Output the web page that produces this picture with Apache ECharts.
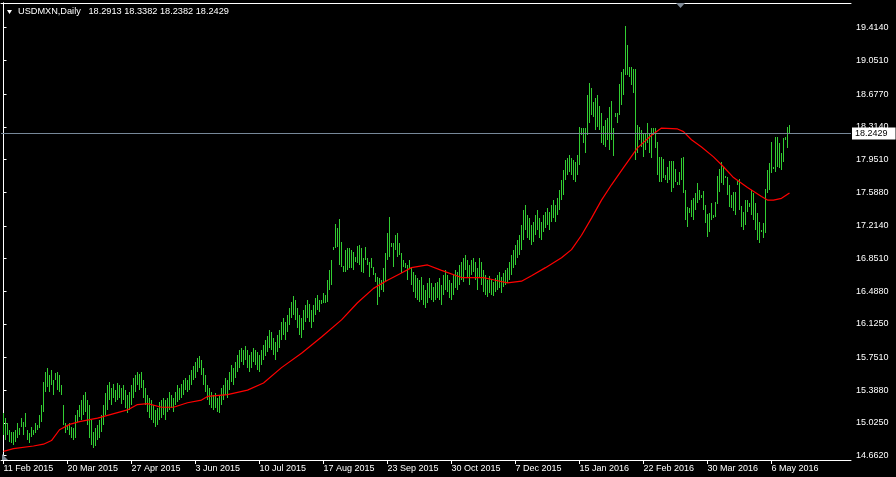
<!DOCTYPE html>
<html><head><meta charset="utf-8">
<script src="https://cdn.jsdelivr.net/npm/echarts@6/dist/echarts.min.js"></script>
<style>html,body{margin:0;padding:0;background:#000;}#c{width:896px;height:477px;}</style>
</head><body><div id="c"></div>
<script>
const symbolName = 'USDMXN,Daily';
const lastOHLC = [18.2913, 18.3382, 18.2382, 18.2429];
const dateLabels = ['11 Feb 2015','20 Mar 2015','27 Apr 2015','3 Jun 2015','10 Jul 2015','17 Aug 2015','23 Sep 2015','30 Oct 2015','7 Dec 2015','15 Jan 2016','22 Feb 2016','30 Mar 2016','6 May 2016'];
const dateLabelBars = [0,32,64,96,128,160,192,224,256,288,320,352,384];
const priceTicks = [14.6620,15.0250,15.3880,15.7510,16.1250,16.4880,16.8510,17.2140,17.5880,17.9510,18.3140,18.6770,19.0510,19.4140];
const highs = [
15.14,15.08,15.03,14.95,14.93,14.93,14.95,15.03,14.97,15.08,
15.04,15.14,14.95,14.91,14.98,14.95,15.03,15.00,15.11,15.23,
15.48,15.59,15.64,15.56,15.61,15.50,15.58,15.59,15.56,15.45,
15.23,15.03,15.00,15.03,14.98,14.97,15.11,15.17,15.23,15.28,
15.34,15.37,15.28,15.23,15.06,14.93,14.97,15.00,15.06,15.11,
15.23,15.36,15.45,15.48,15.41,15.46,15.39,15.47,15.45,15.41,
15.45,15.39,15.34,15.37,15.45,15.53,15.56,15.59,15.57,15.59,
15.50,15.41,15.34,15.30,15.28,15.23,15.17,15.19,15.26,15.28,
15.30,15.28,15.30,15.37,15.34,15.30,15.37,15.45,15.41,15.46,
15.50,15.53,15.50,15.56,15.61,15.66,15.70,15.75,15.77,15.73,
15.64,15.56,15.45,15.41,15.37,15.34,15.36,15.30,15.34,15.41,
15.45,15.53,15.50,15.59,15.67,15.64,15.70,15.78,15.84,15.86,
15.84,15.88,15.84,15.78,15.81,15.86,15.84,15.81,15.78,15.84,
15.89,15.95,15.99,16.06,16.04,15.97,15.92,16.00,16.06,16.15,
16.19,16.15,16.22,16.30,16.37,16.43,16.39,16.30,16.22,16.19,
16.28,16.34,16.39,16.35,16.28,16.34,16.41,16.45,16.39,16.39,
16.47,16.45,16.61,16.72,16.84,16.98,17.23,17.19,17.29,17.03,
16.77,16.95,16.97,16.97,16.95,16.92,16.87,16.99,17.00,16.97,
16.86,16.98,16.86,16.81,16.86,16.76,16.69,16.65,16.64,16.61,
16.75,16.91,17.13,17.31,17.02,17.02,17.11,17.13,17.02,16.91,
16.84,16.80,16.78,16.84,16.75,16.70,16.67,16.64,16.61,16.65,
16.56,16.50,16.58,16.64,16.58,16.54,16.58,16.59,16.64,16.56,
16.67,16.72,16.67,16.61,16.58,16.67,16.72,16.70,16.78,16.81,
16.86,16.89,16.84,16.78,16.84,16.86,16.81,16.75,16.86,16.81,
16.72,16.67,16.61,16.66,16.61,16.59,16.64,16.67,16.70,16.65,
16.69,16.72,16.75,16.81,16.89,16.95,17.00,17.06,17.11,17.22,
17.39,17.45,17.34,17.30,17.22,17.26,17.34,17.39,17.30,17.26,
17.34,17.37,17.41,17.37,17.45,17.50,17.45,17.52,17.61,17.72,
17.83,17.95,17.97,18.00,17.97,17.95,17.92,18.00,18.31,18.30,
18.30,18.30,18.67,18.80,18.75,18.59,18.63,18.67,18.55,18.47,
18.32,18.39,18.41,18.53,18.60,18.30,18.47,18.47,18.79,18.92,
18.95,19.43,19.22,18.98,18.98,18.95,18.95,18.33,18.31,18.28,
18.25,18.25,18.36,18.25,18.30,18.30,18.30,18.15,17.98,17.98,
17.96,17.78,17.87,17.93,17.93,17.93,17.84,17.70,17.81,17.97,
17.98,17.61,17.42,17.41,17.50,17.52,17.58,17.69,17.61,17.56,
17.60,17.45,17.35,17.36,17.47,17.33,17.48,17.77,17.84,17.92,
17.87,17.77,17.76,17.67,17.56,17.59,17.59,17.71,17.73,17.43,
17.37,17.50,17.50,17.47,17.61,17.58,17.47,17.36,17.26,17.17,
17.25,17.62,17.83,17.91,18.15,17.87,18.20,18.20,18.13,18.02,
18.19,18.20,18.31,18.3382];
const lows = [
14.89,14.84,14.89,14.81,14.80,14.78,14.81,14.86,14.89,14.98,
14.89,14.98,14.84,14.80,14.87,14.89,14.91,14.95,14.97,15.04,
15.15,15.37,15.42,15.37,15.45,15.34,15.50,15.39,15.37,15.34,
15.00,14.91,14.95,14.89,14.86,14.84,14.86,15.04,15.09,15.06,
15.11,15.15,15.00,14.86,14.78,14.75,14.77,14.84,14.86,14.93,
15.00,15.11,15.17,15.28,15.23,15.30,15.26,15.28,15.30,15.24,
15.28,15.19,15.14,15.17,15.23,15.30,15.37,15.45,15.39,15.41,
15.30,15.23,15.15,15.08,15.06,15.03,14.98,15.00,15.06,15.08,
15.11,15.06,15.15,15.17,15.19,15.15,15.23,15.26,15.28,15.30,
15.34,15.39,15.37,15.39,15.45,15.50,15.53,15.59,15.64,15.56,
15.45,15.37,15.28,15.23,15.19,15.17,15.19,15.15,15.14,15.23,
15.28,15.34,15.30,15.39,15.48,15.45,15.53,15.59,15.64,15.70,
15.67,15.73,15.64,15.59,15.64,15.70,15.67,15.61,15.59,15.67,
15.73,15.77,15.81,15.86,15.84,15.78,15.73,15.81,15.86,15.95,
16.00,15.95,16.04,16.11,16.19,16.22,16.17,16.08,16.00,15.97,
16.06,16.15,16.19,16.15,16.08,16.15,16.22,16.28,16.26,16.35,
16.36,16.36,16.37,16.50,16.56,16.95,16.97,16.98,16.78,16.76,
16.70,16.70,16.72,16.75,16.75,16.72,16.81,16.80,16.78,16.70,
16.69,16.84,16.78,16.65,16.75,16.67,16.59,16.34,16.42,16.50,
16.48,16.59,16.84,16.87,16.98,16.76,16.95,16.87,16.89,16.69,
16.76,16.75,16.61,16.75,16.56,16.48,16.41,16.39,16.37,16.39,
16.34,16.30,16.36,16.41,16.39,16.37,16.39,16.41,16.39,16.34,
16.45,16.50,16.48,16.41,16.39,16.45,16.52,16.50,16.56,16.61,
16.59,16.72,16.64,16.56,16.67,16.70,16.61,16.50,16.64,16.56,
16.48,16.45,16.42,16.47,16.45,16.43,16.48,16.50,16.52,16.47,
16.54,16.56,16.58,16.61,16.67,16.75,16.78,16.86,16.89,16.95,
17.06,17.17,17.08,17.06,17.00,17.03,17.11,17.17,17.08,17.06,
17.15,17.19,17.22,17.17,17.26,17.30,17.26,17.34,17.39,17.50,
17.56,17.72,17.78,17.81,17.78,17.72,17.70,17.78,17.89,18.22,
18.13,18.02,18.22,18.36,18.45,18.42,18.28,18.31,18.28,18.13,
18.11,18.09,18.17,18.06,18.17,17.99,18.42,18.36,18.45,18.56,
18.67,18.89,18.89,18.87,18.78,18.69,17.95,18.02,18.17,18.09,
17.98,18.06,18.13,18.02,17.97,18.22,18.08,17.78,17.70,17.70,
17.75,17.72,17.69,17.72,17.59,17.63,17.70,17.67,17.67,17.72,
17.58,17.28,17.20,17.36,17.31,17.28,17.39,17.47,17.50,17.52,
17.39,17.25,17.09,17.15,17.28,17.30,17.31,17.46,17.59,17.69,
17.67,17.75,17.56,17.42,17.41,17.38,17.33,17.67,17.39,17.20,
17.17,17.22,17.37,17.42,17.33,17.28,17.17,17.06,17.02,17.15,
17.08,17.13,17.58,17.61,17.80,17.85,17.81,17.87,17.86,17.83,
17.92,18.17,18.08,18.2382];
const maBars = [0,5,15,20,24,28,33,38,47,52,62,67,72,79,85,92,99,102,112,122,130,139,149,159,169,177,185,192,199,204,212,219,229,240,246,252,259,264,271,279,284,289,294,299,304,310,317,324,329,337,340,344,349,355,360,365,372,379,382,385,389,393];
const maValues = [14.71,14.74,14.77,14.79,14.83,14.95,15.01,15.04,15.08,15.11,15.17,15.23,15.24,15.20,15.20,15.25,15.28,15.32,15.34,15.39,15.47,15.64,15.80,15.98,16.17,16.36,16.52,16.61,16.69,16.75,16.78,16.72,16.64,16.64,16.61,16.58,16.60,16.66,16.75,16.86,16.95,17.11,17.30,17.50,17.67,17.86,18.08,18.22,18.30,18.29,18.26,18.17,18.09,17.98,17.87,17.75,17.64,17.54,17.50,17.50,17.52,17.58];

const FONT = '"Liberation Sans", Arial, sans-serif';
const barColor = '#32CD32';
const chart = echarts.init(document.getElementById('c'), null, {renderer:'canvas'});
const barData = highs.map((h, i) => [i, h, lows[i]]);
const maData = maBars.map((b, k) => [b, maValues[k]]);
const Y_MIN = 14.6143, Y_MAX = 19.6883;

chart.setOption({
  backgroundColor: '#000',
  animation: false,
  textStyle: {fontFamily: FONT},
  grid: {left: 1, right: 45, top: 3, bottom: 17, containLabel: false},
  graphic: [
    {type:'polygon', shape:{points:[[7,10],[12,10],[9.5,14]]}, style:{fill:'#fff'}},
    {type:'text', left: 18, top: 7, style:{text: symbolName + '   ' + lastOHLC.map(v=>v.toFixed(4)).join(' '), fill:'#fff', font: '9.2px ' + FONT}},
    {type:'polygon', shape:{points:[[676,3],[685,3],[680.5,8]]}, style:{fill:'#7f8a96'}, z: 100},
    {type:'polygon', shape:{points:[[2,454],[2,460],[8,460]]}, style:{fill:'#7f8a96'}, z: 100}
  ],
  xAxis: [{
    type: 'value', min: -1.25, max: 423.75, position: 'bottom',
    axisLine: {show: true, lineStyle: {color: '#fff', width: 1}},
    axisTick: {show: true, customValues: dateLabelBars, length: 4, lineStyle: {color: '#fff'}},
    axisLabel: {show: true, customValues: dateLabelBars, align: 'left', color: '#fff', fontSize: 9, margin: 4,
      formatter: v => dateLabels[dateLabelBars.indexOf(Math.round(v))] || ''},
    splitLine: {show: false}
  }, {
    type: 'value', min: -1.25, max: 423.75, position: 'top',
    axisLine: {show: true, lineStyle: {color: '#fff', width: 1}},
    axisTick: {show: false}, axisLabel: {show: false}, splitLine: {show: false}
  }],
  yAxis: [{
    type: 'value', min: Y_MIN, max: Y_MAX, position: 'right', scale: true,
    axisLine: {show: true, lineStyle: {color: '#fff', width: 1}},
    axisTick: {show: true, customValues: priceTicks, length: 3, lineStyle: {color: '#fff'}},
    axisLabel: {show: true, customValues: priceTicks, color: '#fff', fontSize: 9, margin: 5,
      formatter: v => Number(v).toFixed(4)},
    splitLine: {show: false}
  }, {
    type: 'value', min: Y_MIN, max: Y_MAX, position: 'left',
    axisLine: {show: true, lineStyle: {color: '#fff', width: 1}},
    axisTick: {show: false}, axisLabel: {show: false}, splitLine: {show: false}
  }],
  series: [{
    type: 'custom',
    xAxisIndex: 0, yAxisIndex: 0,
    data: barData,
    encode: {x: 0, y: [1, 2]},
    clip: true,
    renderItem: function (params, api) {
      const i = api.value(0);
      const top = api.coord([i, api.value(1)]);
      const bot = api.coord([i, api.value(2)]);
      const x = Math.floor(top[0]);
      return {type: 'rect', shape: {x: x, y: Math.round(top[1]), width: 1, height: Math.max(1, Math.round(bot[1]) - Math.round(top[1]))},
        style: {fill: barColor}};
    },
    markLine: {
      silent: true, symbol: 'none', animation: false,
      data: [{yAxis: lastOHLC[3]}],
      lineStyle: {color: '#778899', width: 1, type: 'solid'},
      label: {position: 'end', distance: 1, formatter: lastOHLC[3].toFixed(4), color: '#000', backgroundColor: '#fff',
        padding: [2, 8, 1, 3], fontSize: 9, fontFamily: FONT}
    },
    z: 2
  }, {
    type: 'line',
    xAxisIndex: 0, yAxisIndex: 0,
    data: maData,
    showSymbol: false, symbol: 'none',
    lineStyle: {color: '#ff0000', width: 1.2},
    z: 3
  }]
});
</script>
</body></html>
